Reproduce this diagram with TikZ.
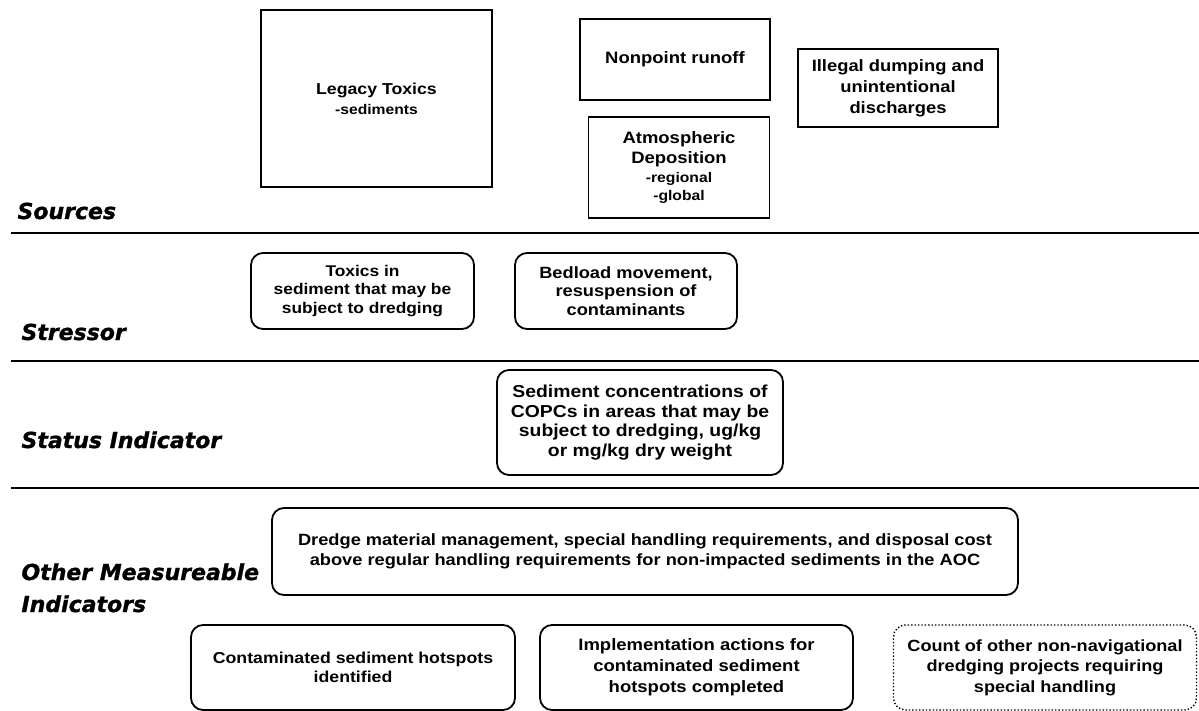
\documentclass[tikz,border=0pt]{standalone}
\usepackage{fontspec}
\setmainfont{Liberation Sans}[FakeStretch=1.12]
\newfontfamily\labelfont[FakeBold=1.2]{DejaVu Sans Bold Oblique}
% bold box text: size and line pitch
\newcommand\bt[2]{\bfseries\fontsize{#1}{#2}\selectfont}
\newcommand\subtext{\bfseries\fontsize{14}{17}\selectfont}
\begin{document}
\begin{tikzpicture}[x=1pt,y=-1pt,
  srcbox/.style={draw, line width=1.8pt, align=center, inner sep=0pt},
  rbox/.style={srcbox, rounded corners=12pt},
  dotbox/.style={rbox, line width=1.4pt, dotted},
  tier/.style={line width=2.4pt},
  tierlabel/.style={anchor=base west, font=\labelfont\fontsize{22}{24}\selectfont}]
\useasboundingbox (0,0) rectangle (1199,711);

% tier separators
\foreach \n/\y in {a/233, b/361, c/488} {
  \coordinate (\n l) at (11,\y);
  \coordinate (\n r) at (1199,\y);
  \draw[tier] (\n l) -- (\n r);
}

% tier labels
\node[tierlabel] (lsrc) at (14,219) {Sources};
\node[tierlabel] (lstr) at (18,340) {Stressor};
\node[tierlabel] (lsta) at (18,448) {Status Indicator};
\node[tierlabel] (loth) at (18,580) {Other Measureable};
\node[tierlabel] (lind) at (18,612) {Indicators};

% sources
\node[srcbox, font=\bt{15.8}{20}, minimum width=231, minimum height=177] (legacy) at (376.5,98.5)
  {Legacy Toxics\\{\subtext -sediments}};
\node[srcbox, font=\bt{16.5}{20}, minimum width=190, minimum height=81] (nonpoint) at (675,59.5)
  {Nonpoint runoff};
\node[srcbox, font=\bt{16.5}{20.5}, minimum width=181, minimum height=101] (atmos) at (679,167.5)
  {Atmospheric\\Deposition\\[-2pt]{\subtext -regional}\\[-2pt]{\subtext -global}};
\node[srcbox, font=\bt{16.4}{21}, minimum width=200, minimum height=78] (illegal) at (898,88)
  {Illegal dumping and\\unintentional\\discharges};

% stressors
\node[rbox, font=\bt{15.5}{18.5}, minimum width=223, minimum height=76] (toxics) at (362.5,291)
  {Toxics in\\sediment that may be\\subject to dredging};
\node[rbox, font=\bt{16.3}{18.5}, minimum width=222, minimum height=76] (bedload) at (626,291)
  {Bedload movement,\\resuspension of\\contaminants};

% status indicator
\node[rbox, font=\bt{17.3}{19.5}, minimum width=286, minimum height=105] (conc) at (640,422.5)
  {Sediment concentrations of\\COPCs in areas that may be\\subject to dredging, ug/kg\\or mg/kg dry weight};

% other measureable indicators
\node[rbox, font=\bt{16.3}{20}, minimum width=746, minimum height=87] (dredge) at (645,551.5)
  {Dredge material management, special handling requirements, and disposal cost\\above regular handling requirements for non-impacted sediments in the AOC};
\node[rbox, font=\bt{15.8}{19.5}, minimum width=324, minimum height=85] (contam) at (353,667.5)
  {Contaminated sediment hotspots\\identified};
\node[rbox, font=\bt{16.5}{21}, minimum width=313, minimum height=85] (impl) at (696.5,667.5)
  {Implementation actions for\\contaminated sediment\\hotspots completed};
\node[dotbox, font=\bt{16.2}{20.5}, minimum width=303, minimum height=85] (count) at (1045,667.5)
  {Count of other non-navigational\\dredging projects requiring\\special handling};
\end{tikzpicture}
\end{document}
